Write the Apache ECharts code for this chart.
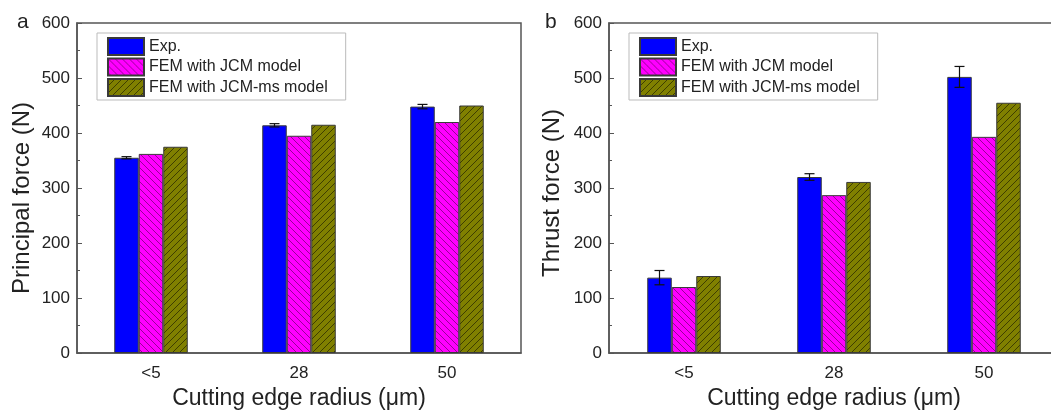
<!DOCTYPE html>
<html>
<head>
<meta charset="utf-8">
<script src="https://cdn.jsdelivr.net/npm/echarts@6/dist/echarts.min.js"></script>
<style>
  html, body { margin: 0; padding: 0; background: #fff; }
  #chart { width: 1051px; height: 414px; }
</style>
</head>
<body>
<div id="chart"></div>
<script>
// Cutting edge radius groups
const categories = ['<5', '28', '50'];
const seriesNames = ['Exp.', 'FEM with JCM model', 'FEM with JCM-ms model'];
const yTicks = [0, 100, 200, 300, 400, 500, 600];

// (a) principal force, N
const principalExp = [355, 414, 448];
const principalExpErr = [2, 3, 4];
const principalJCM = [362, 395, 420];
const principalJCMms = [375, 415, 450];

// (b) thrust force, N
const thrustExp = [137, 320, 502];
const thrustExpErr = [13, 6, 19];
const thrustJCM = [120, 287, 393];
const thrustJCMms = [140, 311, 455];

const BAR_W = 24.5;
const FONT = 'Liberation Sans, Arial, sans-serif';
const TXT = '#222';
const FRAME = '#555';

// diagonal hatch tiles
function hatch(bg, line, dir) {
  const s = 7;
  const c = document.createElement('canvas');
  c.width = s; c.height = s;
  const g = c.getContext('2d');
  g.fillStyle = bg; g.fillRect(0, 0, s, s);
  g.strokeStyle = line; g.lineWidth = 1;
  g.beginPath();
  for (const k of [-s, 0, s]) {
    if (dir === '/') { g.moveTo(k, s); g.lineTo(k + s, 0); }
    else { g.moveTo(k, 0); g.lineTo(k + s, s); }
  }
  g.stroke();
  return { image: c, repeat: 'repeat' };
}
const fillExp = '#0000ff';
const fillJCM = hatch('#ff00ff', 'rgba(110,0,110,0.7)', '\\');
const fillJCMms = hatch('#808000', 'rgba(40,40,0,0.75)', '/');

const panels = [
  { left: 77, width: 444, letter: 'a', letterX: 17, yName: 'Principal force (N)',
    yNameX: 22, yNameY: 198,
    exp: principalExp, err: principalExpErr, jcm: principalJCM, ms: principalJCMms,
    legendLeft: 97 },
  { left: 609, width: 450, letter: 'b', letterX: 545, yName: 'Thrust force (N)',
    yNameX: 552, yNameY: 193,
    exp: thrustExp, err: thrustExpErr, jcm: thrustJCM, ms: thrustJCMms,
    legendLeft: 629 }
];

const grid = [], xAxis = [], yAxis = [], series = [], legend = [], graphic = [];

panels.forEach((p, i) => {
  grid.push({ left: p.left, width: p.width, top: 23, height: 330,
    outerBoundsMode: 'none', containLabel: false,
    show: true, borderColor: FRAME, borderWidth: 1.5, backgroundColor: 'transparent' });

  // category axis with labels, ticks between groups
  xAxis.push({
    type: 'category', gridIndex: i, data: categories,
    name: 'Cutting edge radius (μm)', nameLocation: 'middle', nameGap: 33,
    nameTextStyle: { fontFamily: FONT, fontSize: 23, color: TXT },
    axisLine: { lineStyle: { color: FRAME, width: 1.5 } },
    axisTick: { inside: true, length: 4, lineStyle: { color: FRAME } },
    axisLabel: { fontFamily: FONT, fontSize: 17, color: TXT, margin: 12 },
    splitLine: { show: false }
  });
  // overlay axis for ticks at group centres
  xAxis.push({
    type: 'category', gridIndex: i, data: categories, position: 'bottom',
    axisLine: { show: false },
    axisTick: { inside: true, length: 4, alignWithLabel: true, lineStyle: { color: FRAME } },
    axisLabel: { show: false }, splitLine: { show: false }
  });

  yAxis.push({
    type: 'value', gridIndex: i, min: yTicks[0], max: yTicks[yTicks.length - 1], interval: 100,
    axisLine: { show: true, lineStyle: { color: FRAME, width: 1.5 } },
    axisTick: { show: true, inside: true, length: 5, lineStyle: { color: FRAME } },
    minorTick: { show: true, splitNumber: 2, length: 3, lineStyle: { color: FRAME } },
    axisLabel: { fontFamily: FONT, fontSize: 17, color: TXT, margin: 7 },
    splitLine: { show: false }
  });

  const xi = i * 2;
  const fills = [fillExp, fillJCM, fillJCMms];
  const vals = [p.exp, p.jcm, p.ms];
  vals.forEach((v, k) => {
    series.push({
      type: 'bar', name: seriesNames[k], xAxisIndex: xi, yAxisIndex: i,
      data: v, barWidth: BAR_W, barGap: '0%',
      itemStyle: { color: fills[k], borderColor: '#3a3a3a', borderWidth: 1 },
      emphasis: { disabled: true }
    });
  });

  // error bars on the experimental bars
  series.push({
    type: 'custom', xAxisIndex: xi, yAxisIndex: i, z: 5,
    data: p.exp.map((v, k) => [k, v, p.err[k]]),
    renderItem: function (params, api) {
      const idx = api.value(0), v = api.value(1), e = api.value(2);
      const hi = api.coord([idx, v + e]);
      const lo = api.coord([idx, v - e]);
      const x = hi[0] - BAR_W;
      const cap = 5;
      const st = { stroke: '#111', lineWidth: 1.2 };
      return { type: 'group', children: [
        { type: 'line', shape: { x1: x, y1: hi[1], x2: x, y2: lo[1] }, style: st },
        { type: 'line', shape: { x1: x - cap, y1: hi[1], x2: x + cap, y2: hi[1] }, style: st },
        { type: 'line', shape: { x1: x - cap, y1: lo[1], x2: x + cap, y2: lo[1] }, style: st }
      ]};
    }
  });

  legend.push({
    orient: 'vertical', left: p.legendLeft, top: 33,
    data: seriesNames, selectedMode: false, icon: 'rect',
    itemWidth: 36, itemHeight: 17, itemGap: 1.5,
    padding: [4, 18, 3, 10],
    borderColor: '#bbb', borderWidth: 1, backgroundColor: '#fff',
    textStyle: { fontFamily: FONT, fontSize: 16, color: TXT, lineHeight: 17 }
  });

  graphic.push({
    type: 'text', left: p.letterX, top: 12,
    style: { text: p.letter, fontFamily: FONT, fontSize: 21, fill: TXT }
  });
  // vertical axis title
  graphic.push({
    type: 'text', x: p.yNameX, y: p.yNameY, rotation: Math.PI / 2,
    style: { text: p.yName, fontFamily: FONT, fontSize: 24, fill: TXT,
      align: 'center', verticalAlign: 'middle' }
  });
});

const chart = echarts.init(document.getElementById('chart'), null, { renderer: 'canvas' });
chart.setOption({
  animation: false,
  backgroundColor: '#fff',
  grid, xAxis, yAxis, series, legend, graphic
});
</script>
</body>
</html>
